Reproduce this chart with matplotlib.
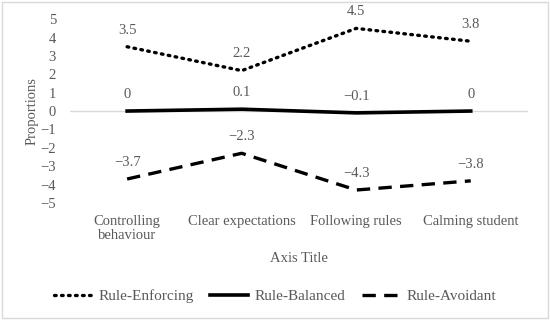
import matplotlib.pyplot as plt
from matplotlib.patches import Rectangle

categories = ['Controlling\nbehaviour', 'Clear expectations', 'Following rules', 'Calming student']
enforcing = [3.5, 2.2, 4.5, 3.8]
balanced = [0, 0.1, -0.1, 0]
avoidant = [-3.7, -2.3, -4.3, -3.8]
enforcing_lbl = ['3.5', '2.2', '4.5', '3.8']
balanced_lbl = ['0', '0.1', '\u22120.1', '0']
avoidant_lbl = ['\u22123.7', '\u22122.3', '\u22124.3', '\u22123.8']
yticks = [5, 4, 3, 2, 1, 0, -1, -2, -3, -4, -5]

grey = '#595959'
plt.rcParams['font.family'] = ['Liberation Serif', 'DejaVu Serif']

fig = plt.figure(figsize=(5.5, 3.2), dpi=100)
ax = fig.add_axes([0.127, 0.366, 0.833, 0.574])

x = range(len(categories))
ax.plot(x, enforcing, color='black', lw=2.4, linestyle=(0, (0.5, 1.6)),
        dash_capstyle='round', label='Rule-Enforcing')
ax.plot(x, balanced, color='black', lw=2.6, label='Rule-Balanced')
ax.plot(x, avoidant, color='black', lw=2.4, linestyle=(0, (4, 2.5)), label='Rule-Avoidant')

# etiquettes de donnees
for vals, lbls in [(enforcing, enforcing_lbl), (balanced, balanced_lbl), (avoidant, avoidant_lbl)]:
    for i, (v, t) in enumerate(zip(vals, lbls)):
        ax.annotate(t, (i, v), xytext=(0, 12), textcoords='offset points',
                    ha='center', va='center', fontsize=10.5, color=grey)

ax.axhline(0, color='#d9d9d9', lw=1, zorder=0)
ax.set_xlim(-0.5, 3.5)
ax.set_ylim(-5, 5)
ax.set_yticks(yticks)
ax.set_yticklabels([str(t).replace('-', '\u2212') for t in yticks])
ax.set_xticks(list(x))
ax.set_xticklabels(categories, linespacing=1.05)
ax.tick_params(length=0, labelsize=10.5, colors=grey)
ax.tick_params(axis='y', pad=10)
ax.tick_params(axis='x', pad=9)
for s in ax.spines.values():
    s.set_visible(False)

ax.set_ylabel('Proportions', fontsize=10.5, color=grey, labelpad=1)
ax.set_xlabel('Axis Title', fontsize=10.5, color=grey, labelpad=7)

fig.legend(loc='center', bbox_to_anchor=(0.5, 0.075), ncol=3, frameon=False,
           fontsize=11, labelcolor=grey, handlelength=2.5, columnspacing=1.1,
           handletextpad=0.4)

fig.patches.append(Rectangle((0.003, 0.005), 0.993, 0.99, transform=fig.transFigure,
                             fill=False, edgecolor='#d9d9d9', lw=1))

fig.savefig('out.png', dpi=100)
